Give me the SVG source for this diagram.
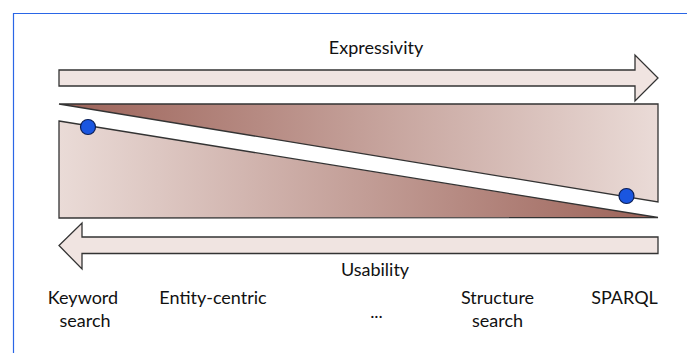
<svg xmlns="http://www.w3.org/2000/svg" width="687" height="353" viewBox="0 0 687 353">
  <style>
    .arrow { fill: #f0e4e1; stroke: #333; stroke-width: 1.3; stroke-linejoin: miter; }
    .wedge { stroke: #333; stroke-width: 1.3; stroke-linejoin: miter; }
    .dot { fill: #1a56e0; stroke: #0a1e55; stroke-width: 1.2; }
    .lbl { font-family: Lato, "Liberation Sans", sans-serif; font-size: 18px; fill: #111; text-anchor: middle; }
  </style>
  <defs>
    <linearGradient id="darkLeft" x1="0" y1="0" x2="1" y2="0">
      <stop offset="0" stop-color="#9c6258"/>
      <stop offset="1" stop-color="#eadbd7"/>
    </linearGradient>
    <linearGradient id="darkRight" x1="0" y1="0" x2="1" y2="0">
      <stop offset="0" stop-color="#eadbd7"/>
      <stop offset="1" stop-color="#9c6258"/>
    </linearGradient>
  </defs>

  <rect width="687" height="353" fill="#fff"/>
  <!-- frame -->
  <path d="M13.5,353 V13.5 H687" fill="none" stroke="#2a66e6" stroke-width="1.2"/>

  <g id="expressivity">
    <polygon class="arrow" points="59,70 635,70 635,55 658,78 635,101 635,86 59,86"/>
    <text class="lbl" x="376" y="54">Expressivity</text>
  </g>

  <g id="usability">
    <polygon class="arrow" points="658,237 82,237 82,223 59,245.5 82,269 82,253.5 658,253.5"/>
    <text class="lbl" x="375" y="276">Usability</text>
  </g>

  <g id="expressivity-wedge">
    <polygon class="wedge" fill="url(#darkLeft)" points="59,104 658,104 658,202 59,104"/>
    <circle class="dot" cx="626.5" cy="196" r="7.5"/>
  </g>

  <g id="usability-wedge">
    <polygon class="wedge" fill="url(#darkRight)" points="59,121 658,217.5 59,218"/>
    <circle class="dot" cx="88" cy="127" r="7.5"/>
  </g>

  <g id="keyword-search">
    <text class="lbl" x="83" y="304">Keyword</text>
    <text class="lbl" x="85" y="327">search</text>
  </g>
  <g id="entity-centric">
    <text class="lbl" x="213" y="304">Entity-centric</text>
  </g>
  <g id="ellipsis">
    <text class="lbl" x="376.5" y="318">...</text>
  </g>
  <g id="structure-search">
    <text class="lbl" x="497.5" y="304">Structure</text>
    <text class="lbl" x="497.5" y="327">search</text>
  </g>
  <g id="sparql">
    <text class="lbl" x="624.5" y="304">SPARQL</text>
  </g>
</svg>
